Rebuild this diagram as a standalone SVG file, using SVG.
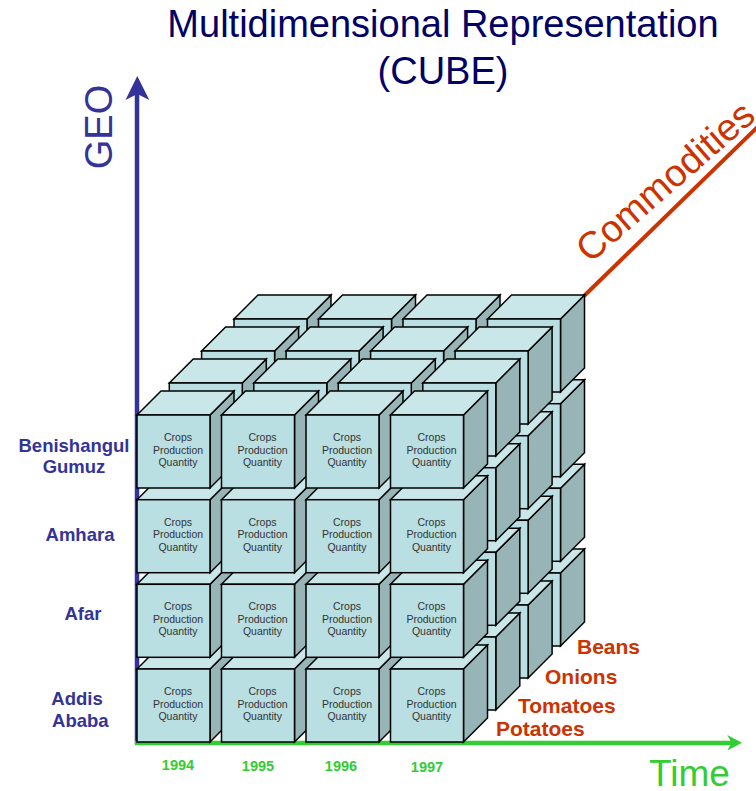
<svg xmlns="http://www.w3.org/2000/svg" width="756" height="791" viewBox="0 0 756 791">
<style>
.f{fill:#b9dfe2;stroke:#000;stroke-width:1.5}
.t{fill:#c9e7e9;stroke:#000;stroke-width:1.5;stroke-linejoin:miter}
.s{fill:#97b5b7;stroke:#000;stroke-width:1.5;stroke-linejoin:miter}
.sans{font-family:"Liberation Sans",Arial,sans-serif}
.lbl{font-family:"Liberation Sans",Arial,sans-serif;font-size:10.5px;fill:#333;text-anchor:middle}
.geo{font-family:"Liberation Sans",Arial,sans-serif;font-weight:bold;font-size:18.5px;fill:#333399;text-anchor:middle}
.com{font-family:"Liberation Sans",Arial,sans-serif;font-weight:bold;font-size:21px;fill:#cc3300}
.yr{font-family:"Liberation Sans",Arial,sans-serif;font-weight:bold;font-size:14.5px;fill:#33cc33;text-anchor:middle}
</style>
<defs>
<g id="cube">
<polygon class="s" points="73,0 97,-24 97,49 73,73"/>
<polygon class="t" points="0,0 24,-24 97,-24 73,0"/>
<rect class="f" x="0" y="0" width="73" height="73"/>
</g>
<g id="grid">
<use href="#cube" x="137" y="669"/><use href="#cube" x="221.5" y="669"/><use href="#cube" x="306" y="669"/><use href="#cube" x="390.5" y="669"/>
<use href="#cube" x="137" y="584.3"/><use href="#cube" x="221.5" y="584.3"/><use href="#cube" x="306" y="584.3"/><use href="#cube" x="390.5" y="584.3"/>
<use href="#cube" x="137" y="499.7"/><use href="#cube" x="221.5" y="499.7"/><use href="#cube" x="306" y="499.7"/><use href="#cube" x="390.5" y="499.7"/>
<use href="#cube" x="137" y="415"/><use href="#cube" x="221.5" y="415"/><use href="#cube" x="306" y="415"/><use href="#cube" x="390.5" y="415"/>
</g>
</defs>

<g id="title" class="sans" fill="#000066" font-size="38" text-anchor="middle">
<text x="443" y="37">Multidimensional Representation</text>
<text x="443" y="84">(CUBE)</text>
</g>

<g id="connectors">
<line x1="584" y1="296" x2="775" y2="110" stroke="#cc3300" stroke-width="4"/>
<line x1="137" y1="744" x2="137" y2="92" stroke="#333399" stroke-width="4.5"/>
<polygon points="137.3,76 149.3,100 137.3,94 125.5,100" fill="#333399"/>
<line x1="135" y1="743" x2="733" y2="743" stroke="#33cc33" stroke-width="4.5"/>
<polygon points="742,742.7 727.3,735 731.5,742.7 727.3,750.5" fill="#33cc33"/>
</g>

<g id="axis-labels" class="sans" font-size="38">
<text transform="translate(112,127) rotate(-90)" text-anchor="middle" fill="#333399">GEO</text>
<text transform="translate(590,264) rotate(-41)" fill="#cc3300">Commodities</text>
<text x="649" y="786" fill="#33cc33" font-size="37">Time</text>
</g>

<g id="cube-back">
<use href="#grid" transform="translate(97,-96)"/>
<use href="#grid" transform="translate(64.6,-64)"/>
<use href="#grid" transform="translate(32.3,-32)"/>
</g>

<g id="cube-front">
<g id="c-addis-1994"><use href="#cube" x="137" y="669"/><text class="lbl"><tspan x="178" y="695">Crops</tspan><tspan x="178" y="707.5">Production</tspan><tspan x="178" y="720">Quantity</tspan></text></g>
<g id="c-addis-1995"><use href="#cube" x="221.5" y="669"/><text class="lbl"><tspan x="262.5" y="695">Crops</tspan><tspan x="262.5" y="707.5">Production</tspan><tspan x="262.5" y="720">Quantity</tspan></text></g>
<g id="c-addis-1996"><use href="#cube" x="306" y="669"/><text class="lbl"><tspan x="347" y="695">Crops</tspan><tspan x="347" y="707.5">Production</tspan><tspan x="347" y="720">Quantity</tspan></text></g>
<g id="c-addis-1997"><use href="#cube" x="390.5" y="669"/><text class="lbl"><tspan x="431.5" y="695">Crops</tspan><tspan x="431.5" y="707.5">Production</tspan><tspan x="431.5" y="720">Quantity</tspan></text></g>

<g id="c-afar-1994"><use href="#cube" x="137" y="584.3"/><text class="lbl"><tspan x="178" y="610.3">Crops</tspan><tspan x="178" y="622.8">Production</tspan><tspan x="178" y="635.3">Quantity</tspan></text></g>
<g id="c-afar-1995"><use href="#cube" x="221.5" y="584.3"/><text class="lbl"><tspan x="262.5" y="610.3">Crops</tspan><tspan x="262.5" y="622.8">Production</tspan><tspan x="262.5" y="635.3">Quantity</tspan></text></g>
<g id="c-afar-1996"><use href="#cube" x="306" y="584.3"/><text class="lbl"><tspan x="347" y="610.3">Crops</tspan><tspan x="347" y="622.8">Production</tspan><tspan x="347" y="635.3">Quantity</tspan></text></g>
<g id="c-afar-1997"><use href="#cube" x="390.5" y="584.3"/><text class="lbl"><tspan x="431.5" y="610.3">Crops</tspan><tspan x="431.5" y="622.8">Production</tspan><tspan x="431.5" y="635.3">Quantity</tspan></text></g>

<g id="c-amhara-1994"><use href="#cube" x="137" y="499.7"/><text class="lbl"><tspan x="178" y="525.7">Crops</tspan><tspan x="178" y="538.2">Production</tspan><tspan x="178" y="550.7">Quantity</tspan></text></g>
<g id="c-amhara-1995"><use href="#cube" x="221.5" y="499.7"/><text class="lbl"><tspan x="262.5" y="525.7">Crops</tspan><tspan x="262.5" y="538.2">Production</tspan><tspan x="262.5" y="550.7">Quantity</tspan></text></g>
<g id="c-amhara-1996"><use href="#cube" x="306" y="499.7"/><text class="lbl"><tspan x="347" y="525.7">Crops</tspan><tspan x="347" y="538.2">Production</tspan><tspan x="347" y="550.7">Quantity</tspan></text></g>
<g id="c-amhara-1997"><use href="#cube" x="390.5" y="499.7"/><text class="lbl"><tspan x="431.5" y="525.7">Crops</tspan><tspan x="431.5" y="538.2">Production</tspan><tspan x="431.5" y="550.7">Quantity</tspan></text></g>

<g id="c-beni-1994"><use href="#cube" x="137" y="415"/><text class="lbl"><tspan x="178" y="441">Crops</tspan><tspan x="178" y="453.5">Production</tspan><tspan x="178" y="466">Quantity</tspan></text></g>
<g id="c-beni-1995"><use href="#cube" x="221.5" y="415"/><text class="lbl"><tspan x="262.5" y="441">Crops</tspan><tspan x="262.5" y="453.5">Production</tspan><tspan x="262.5" y="466">Quantity</tspan></text></g>
<g id="c-beni-1996"><use href="#cube" x="306" y="415"/><text class="lbl"><tspan x="347" y="441">Crops</tspan><tspan x="347" y="453.5">Production</tspan><tspan x="347" y="466">Quantity</tspan></text></g>
<g id="c-beni-1997"><use href="#cube" x="390.5" y="415"/><text class="lbl"><tspan x="431.5" y="441">Crops</tspan><tspan x="431.5" y="453.5">Production</tspan><tspan x="431.5" y="466">Quantity</tspan></text></g>
</g>

<g id="geo-labels">
<text class="geo" x="74" y="451.5">Benishangul</text>
<text class="geo" x="74" y="472.5">Gumuz</text>
<text class="geo" x="80" y="540.5">Amhara</text>
<text class="geo" x="83" y="620">Afar</text>
<text class="geo" x="77" y="705">Addis</text>
<text class="geo" x="80.3" y="727">Ababa</text>
</g>

<g id="year-labels">
<text class="yr" x="178" y="770">1994</text>
<text class="yr" x="258" y="771">1995</text>
<text class="yr" x="341" y="771">1996</text>
<text class="yr" x="427" y="772">1997</text>
</g>

<g id="commodity-labels">
<text class="com" x="577" y="654">Beans</text>
<text class="com" x="545" y="684">Onions</text>
<text class="com" x="518" y="713">Tomatoes</text>
<text class="com" x="496" y="736">Potatoes</text>
</g>
</svg>
